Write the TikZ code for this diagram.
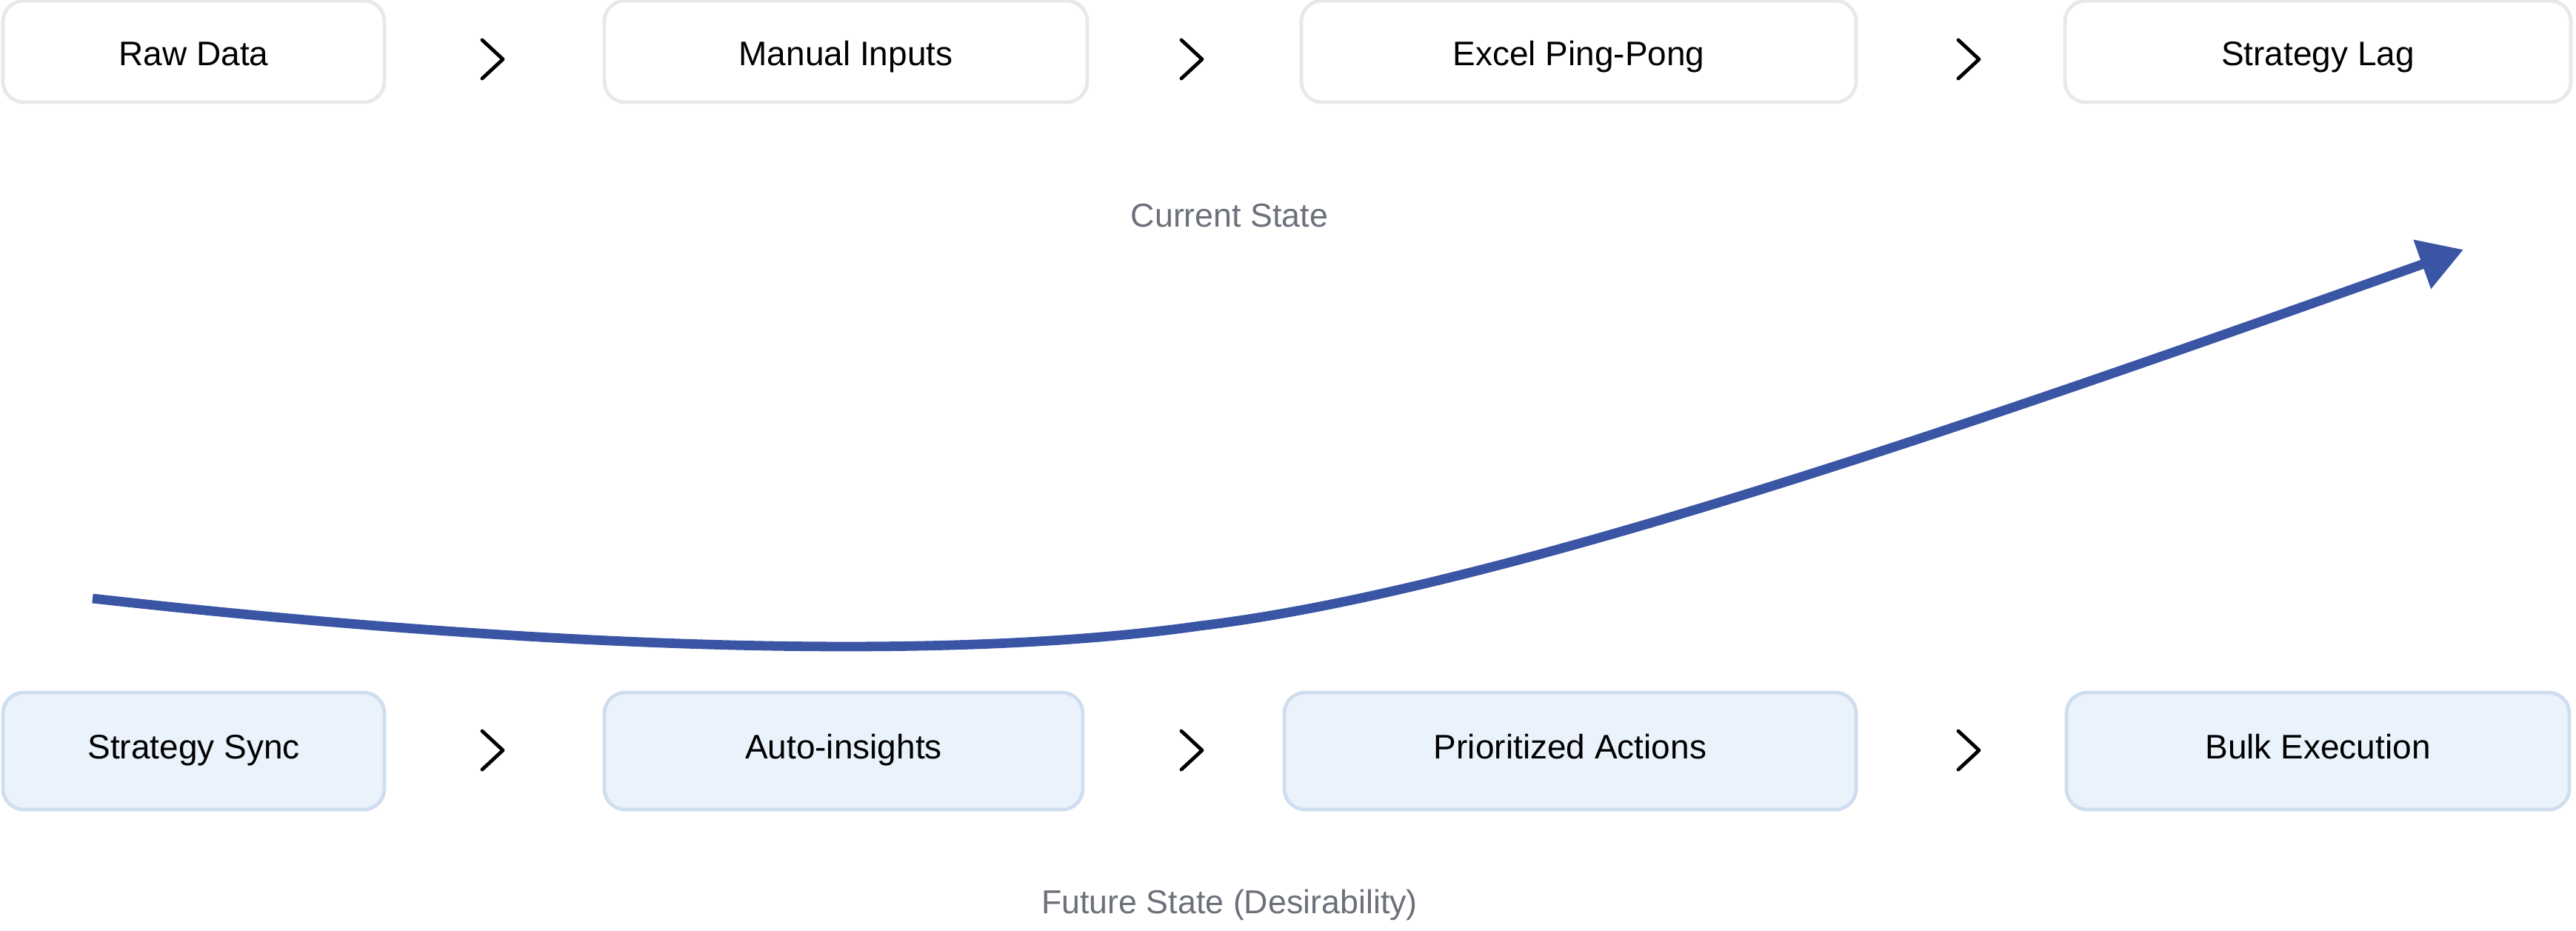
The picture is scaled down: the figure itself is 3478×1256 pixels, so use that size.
\documentclass[tikz,border=0pt]{standalone}
\usepackage{fontspec}
\setmainfont{Liberation Sans}
\usetikzlibrary{arrows.meta,positioning,calc}
\definecolor{curline}{HTML}{E8E8E8}
\definecolor{futfill}{HTML}{EAF2FC}
\definecolor{futline}{HTML}{CFDEEE}
\definecolor{arcblue}{HTML}{3A55A4}
\definecolor{capgray}{HTML}{6C707A}

\begin{document}
\begin{tikzpicture}[
  x=0.25pt, y=-0.25pt,
  node distance=72pt,
  box/.style={draw=curline, line width=1.2pt, rounded corners=7pt, fill=white, minimum height=34.25pt, inner sep=0pt, outer sep=0pt, text height=11pt, text depth=1.3pt, font=\fontsize{11.5}{14}\selectfont},
  fut/.style={box, draw=futline, fill=futfill, minimum height=39.5pt, text height=8.3pt, text depth=3.3pt},
  statelbl/.style={font=\fontsize{11.2}{14}\selectfont, text=capgray},
  chev/.style={line width=1.2pt, line cap=round, line join=round},
  arc/.style={-{Triangle[length=14.8pt, width=16.8pt]}, line width=3.2pt, draw=arcblue}
]
\useasboundingbox (0,0) rectangle (3478,1256);
% current state row
\node[box, minimum width=128.75pt] (raw) at (261.5,69.5) {Raw Data};
\node[box, minimum width=163pt, right=74.25pt of raw] (manual) {Manual Inputs};
\node[box, minimum width=187.25pt, right=72.25pt of manual] (excel) {Excel Ping-Pong};
\node[box, minimum width=170.75pt, right=70.5pt of excel] (lag) {Strategy Lag};
\node[statelbl] (curlbl) at (1660,291) {Current State};
% future state row
\node[fut, minimum width=128.75pt] (sync) at (261.5,1014) {Strategy Sync};
\node[fut, minimum width=161.5pt, right=74.25pt of sync] (auto) {Auto-insights};
\node[fut, minimum width=193pt, right=68pt of auto] (prio) {Prioritized Actions};
\node[fut, minimum width=169.75pt, right=71pt of prio] (bulk) {Bulk Execution};
\node[statelbl] (futlbl) at (1660,1222) {Future State (Desirability)};
% chevrons
\foreach \x in {651,1595,2644} {
  \draw[chev] (\x,54) -- ++(28,26) -- ++(-28,26);
  \draw[chev] (\x,987) -- ++(28,26) -- ++(-28,26);
}
% transition arc
\coordinate (arcstart) at (125,808);
\coordinate (arcbend) at (1620,845);
\coordinate (arctip) at (3326,337);
\draw[arc] (arcstart) .. controls (725,875) and (1270,895) .. (arcbend)
  .. controls (2020,797) and (2667,572) .. (arctip);
\end{tikzpicture}
\end{document}
